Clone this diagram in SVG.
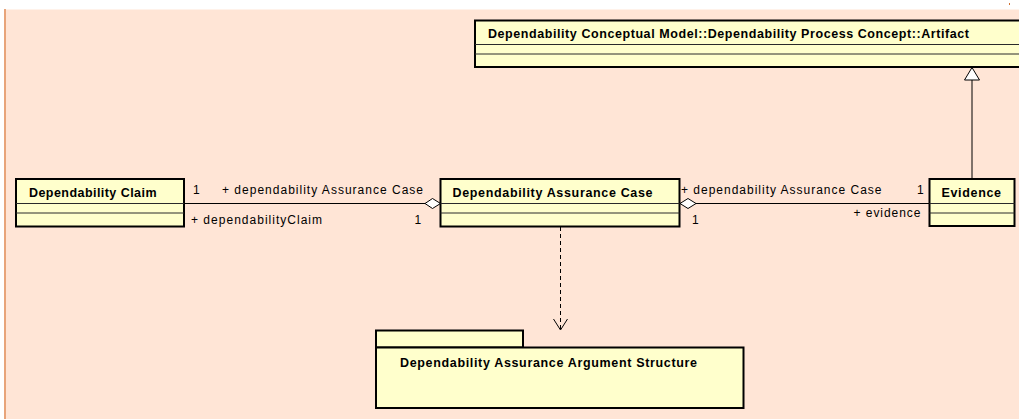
<svg xmlns="http://www.w3.org/2000/svg" width="1019" height="419" viewBox="0 0 1019 419">
<style>
.bg{fill:#FFE5D6}
.cls{fill:#FFFFCC;stroke:#000;stroke-width:2}
.sep{stroke:#2a2a2a;stroke-width:1;fill:none}
.name{font-family:"Liberation Sans",Arial,sans-serif;font-weight:bold;font-size:12.5px;fill:#000}
.lbl{font-family:"Liberation Sans",Arial,sans-serif;font-size:12px;fill:#000}
.edge{stroke:#000;stroke-width:1;fill:none}
.head{stroke:#000;stroke-width:1;fill:#fff}
</style>
<rect x="0" y="0" width="1019" height="419" fill="#fff"/>
<rect class="bg" x="5" y="9.5" width="1020" height="415"/>
<line x1="5" y1="9" x2="5" y2="419" stroke="#E8A47A" stroke-width="2"/>
<rect x="1009" y="3" width="1" height="2" fill="#D07030"/>

<g id="connectors">
  <line class="edge" x1="184" y1="203.5" x2="425" y2="203.5"/>
  <polygon class="head" points="425,203.5 432.5,198.5 440.5,203.5 432.5,208.5"/>
  <line class="edge" x1="696" y1="203.5" x2="929.5" y2="203.5"/>
  <polygon class="head" points="680,203.5 688,198.5 696,203.5 688,208.5"/>
  <line class="edge" x1="972" y1="179" x2="972" y2="80"/>
  <polygon class="head" points="972,67.5 964.5,80 979.5,80"/>
  <line class="edge" x1="560.5" y1="227" x2="560.5" y2="329.5" stroke-dasharray="4,3"/>
  <polyline class="edge" points="553.5,319 560.5,330 567.5,319"/>
  <text class="lbl" x="193" y="193.5">1</text>
  <text class="lbl" x="222" y="193.5" textLength="201" lengthAdjust="spacing">+ dependability Assurance Case</text>
  <text class="lbl" x="191" y="224" textLength="131" lengthAdjust="spacing">+ dependabilityClaim</text>
  <text class="lbl" x="414.5" y="224">1</text>
  <text class="lbl" x="681" y="193.5" textLength="200.5" lengthAdjust="spacing">+ dependability Assurance Case</text>
  <text class="lbl" x="692" y="224">1</text>
  <text class="lbl" x="917" y="193.5">1</text>
  <text class="lbl" x="853.5" y="217" textLength="67" lengthAdjust="spacing">+ evidence</text>
</g>

<g id="artifact">
  <rect class="cls" x="475" y="20.5" width="560" height="46.5"/>
  <line class="sep" x1="475" y1="44.5" x2="1019" y2="44.5"/>
  <line class="sep" x1="475" y1="54" x2="1019" y2="54"/>
  <text class="name" x="488" y="37.5" textLength="481" lengthAdjust="spacing">Dependability Conceptual Model::Dependability Process Concept::Artifact</text>
</g>

<g id="claim">
  <rect class="cls" x="16" y="179" width="168" height="47.5"/>
  <line class="sep" x1="16" y1="203.5" x2="184" y2="203.5"/>
  <line class="sep" x1="16" y1="213" x2="184" y2="213"/>
  <text class="name" x="29" y="197.3" textLength="127.5" lengthAdjust="spacing">Dependability Claim</text>
</g>

<g id="assurance-case">
  <rect class="cls" x="440.5" y="179" width="239" height="47.5"/>
  <line class="sep" x1="440.5" y1="203.5" x2="679.5" y2="203.5"/>
  <line class="sep" x1="440.5" y1="213" x2="679.5" y2="213"/>
  <text class="name" x="452.5" y="197.3" textLength="200" lengthAdjust="spacing">Dependability Assurance Case</text>
</g>

<g id="evidence">
  <rect class="cls" x="929.5" y="179" width="85" height="47"/>
  <line class="sep" x1="929.5" y1="203.5" x2="1014.5" y2="203.5"/>
  <line class="sep" x1="929.5" y1="213" x2="1014.5" y2="213"/>
  <text class="name" x="941.5" y="197.3" textLength="59.5" lengthAdjust="spacing">Evidence</text>
</g>

<g id="argument-structure">
  <rect class="cls" x="376" y="330.5" width="147" height="17"/>
  <rect class="cls" x="376" y="347.5" width="367.5" height="60.5"/>
  <text class="name" x="400" y="367" textLength="297" lengthAdjust="spacing">Dependability Assurance Argument Structure</text>
</g>
</svg>
